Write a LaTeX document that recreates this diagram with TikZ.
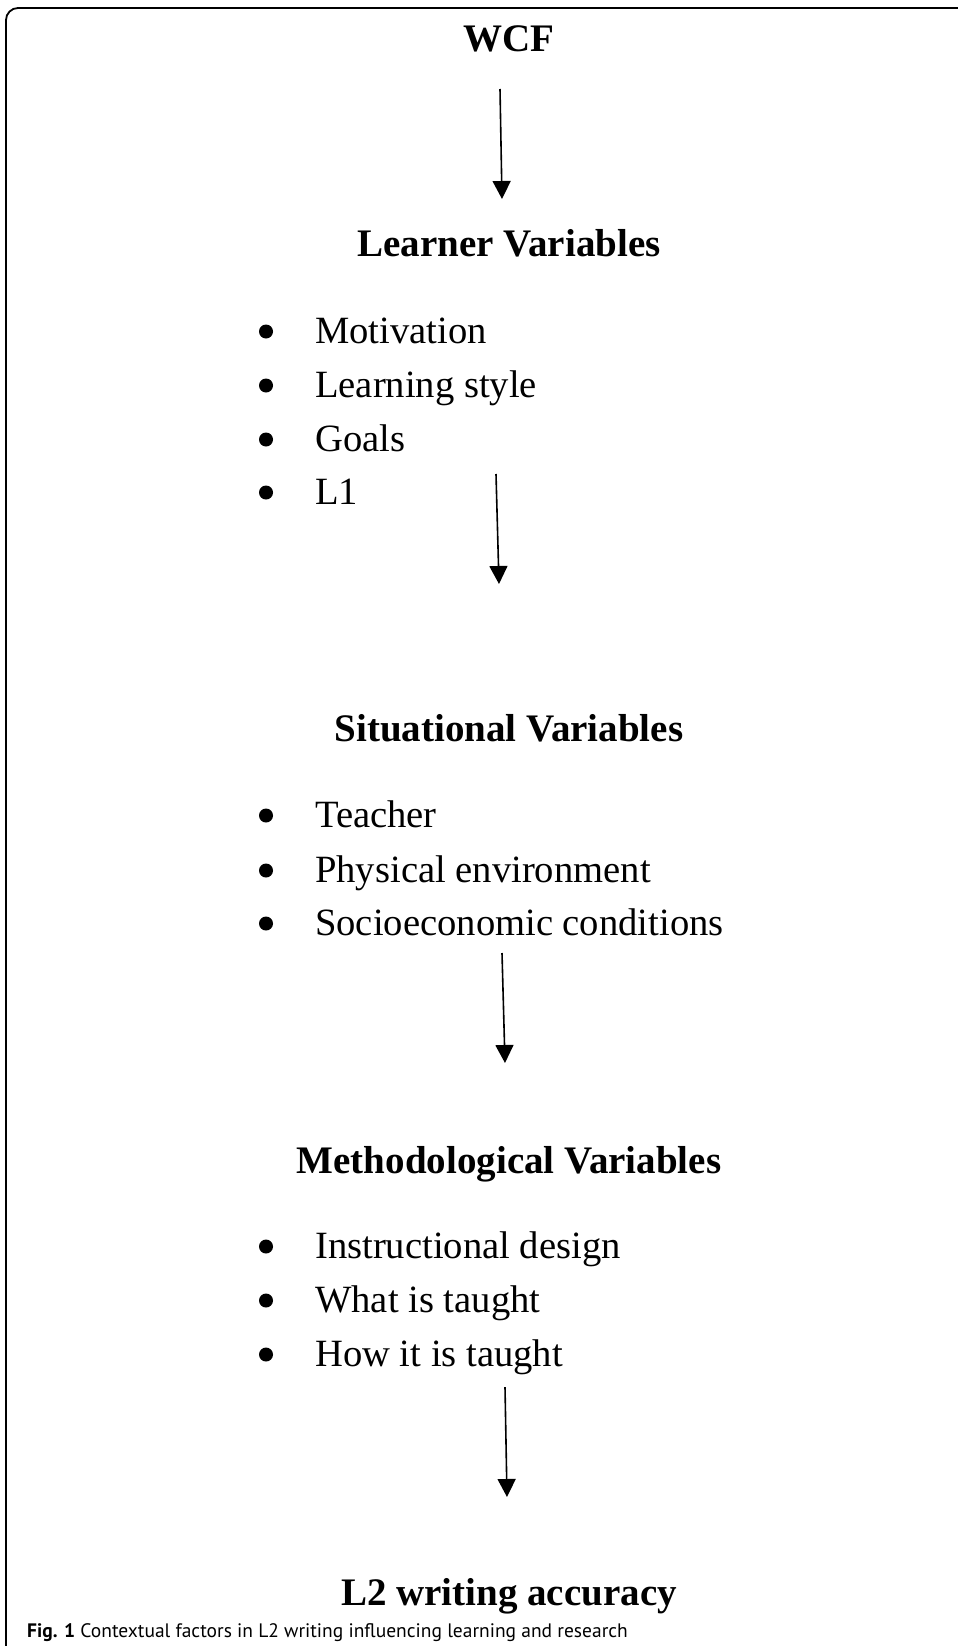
\documentclass[tikz,border=0pt]{standalone}
\usepackage{fontspec}
\setmainfont{Liberation Serif}
\newfontfamily\capfont{PT Sans}
\usetikzlibrary{arrows.meta}

\begin{document}
\begin{tikzpicture}[x=1pt, y=-1pt,
  >={Triangle[width=18pt,length=18pt]},
  head/.style={anchor=base, inner sep=0pt, font=\fontsize{39}{41}\selectfont\bfseries},
  item/.style={anchor=base west, inner sep=0pt, font=\fontsize{38.6}{41}\selectfont},
  dot/.style={circle, fill, inner sep=0pt, minimum size=14pt},
  arr/.style={->, line width=1.6pt}]
\useasboundingbox (0,0) rectangle (958,1646);

% frame, cut off on the right and at the bottom
\draw[line width=1.8pt, rounded corners=12pt] (6,1660) -- (6,8) -- (970,8);

\node[head] (wcf) at (509,52) {WCF};
\coordinate (a1s) at (500,89);
\coordinate (a1e) at (502,199);
\draw[arr] (a1s) -- (a1e);

\node[head] (learner) at (509,256) {Learner Variables};
\node[dot] (b11) at (266,331.5) {};
\node[item] (motiv) at (315,343) {Motivation};
\node[dot] (b12) at (266,385.5) {};
\node[item] (style) at (315,397) {Learning style};
\node[dot] (b13) at (266,439.5) {};
\node[item] (goals) at (315,451) {Goals};
\node[dot] (b14) at (266,492.5) {};
\node[item] (lone) at (315,504) {L1};
\coordinate (a2s) at (496,474);
\coordinate (a2e) at (499,584);
\draw[arr] (a2s) -- (a2e);

\node[head] (situ) at (509,741) {Situational Variables};
\node[dot] (b21) at (266,815.5) {};
\node[item] (teacher) at (315,827) {Teacher};
\node[dot] (b22) at (266,870.5) {};
\node[item] (phys) at (315,882) {Physical environment};
\node[dot] (b23) at (266,923.5) {};
\node[item] (socio) at (315,935) {Socioeconomic conditions};
\coordinate (a3s) at (502,953);
\coordinate (a3e) at (505,1063);
\draw[arr] (a3s) -- (a3e);

\node[head] (method) at (509,1173) {Methodological Variables};
\node[dot] (b31) at (266,1246.5) {};
\node[item] (design) at (315,1258) {Instructional design};
\node[dot] (b32) at (266,1300.5) {};
\node[item] (what) at (315,1312) {What is taught};
\node[dot] (b33) at (266,1354.5) {};
\node[item] (how) at (315,1366) {How it is taught};
\coordinate (a4s) at (505,1387);
\coordinate (a4e) at (507,1497);
\draw[arr] (a4s) -- (a4e);

\node[head] (acc) at (509,1605) {L2 writing accuracy};

\node[anchor=base west, inner sep=0pt, font=\capfont\fontsize{19.5}{21}\selectfont] (cap) at (27,1637)
  {\textbf{Fig. 1} Contextual factors in L2 writing influencing learning and research};
\end{tikzpicture}
\end{document}
